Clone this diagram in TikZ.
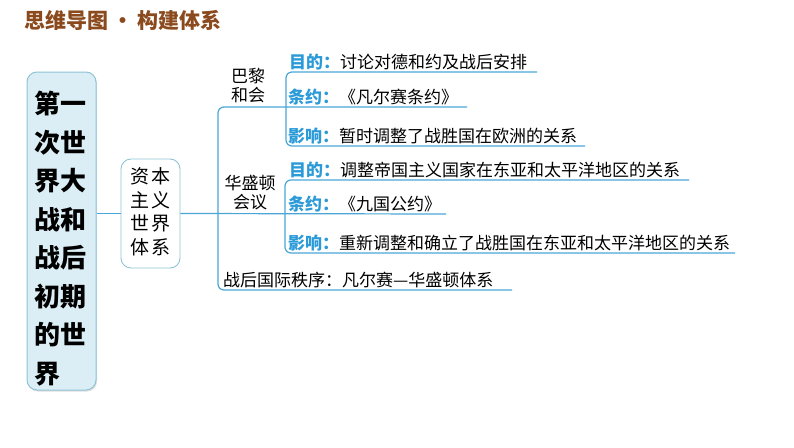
\documentclass[tikz,border=0pt]{standalone}
\usepackage{fontspec}
\newfontfamily\cjk{Noto Sans CJK SC}
\usetikzlibrary{shadows}
\definecolor{titlebrown}{HTML}{8B4A1E}
\definecolor{linkblue}{HTML}{4AA6D6}
\definecolor{labelblue}{HTML}{2A9AD8}
\definecolor{boxfill}{HTML}{DCEEF5}
\definecolor{boxline}{HTML}{8EC4D6}
\newcommand{\lbl}[1]{\textcolor{labelblue}{\bfseries #1：}}
\tikzset{
  link/.style={draw=linkblue, line width=1.2pt},
  item/.style={anchor=base west, inner sep=0pt, font=\cjk\fontsize{17}{17}\selectfont},
  confname/.style={align=center, inner sep=0pt, font=\cjk\fontsize{17}{19}\selectfont},
}
\begin{document}
\begin{tikzpicture}[x=1pt,y=-1pt]
\useasboundingbox[fill=white] (0,0) rectangle (794,447);

% title
\node[anchor=west, inner sep=0pt, text=titlebrown, font=\cjk\bfseries\fontsize{21}{21}\selectfont] (title) at (24,20) {思维导图\hspace{4pt}•\hspace{4pt}构建体系};

% main box
\node[draw=boxline, fill=boxfill, rounded corners=10pt, minimum width=69pt, minimum height=318pt, line width=1pt,
      drop shadow={opacity=0.25, shadow xshift=1pt, shadow yshift=-1.5pt}] (mainbox) at (61.5,231) {};
\node[anchor=north west, align=left, inner sep=0pt, font=\cjk\bfseries\fontsize{26}{38.5}\selectfont] (maintxt) at (34,91)
  {第一\\次世\\界大\\战和\\战后\\初期\\的世\\界};

% system box
\node[draw=boxline, fill=white, rounded corners=10pt, minimum width=59pt, minimum height=109pt, line width=0.9pt] (sysbox) at (150.5,213.5) {};
\node[align=center, inner sep=0pt, font=\cjk\fontsize{19}{23.5}\selectfont] (systxt) at (150.5,212) {资\hspace{2pt}本\\主\hspace{2pt}义\\世\hspace{2pt}界\\体\hspace{2pt}系};

% end coordinates
\coordinate (wsEnd) at (446,214);
\coordinate (parisEnd) at (467,107);
\coordinate (orderEnd) at (512,290);
\coordinate (pAimEnd) at (537,72);
\coordinate (pEffEnd) at (585,146);
\coordinate (wAimEnd) at (689,180);
\coordinate (wEffEnd) at (735,253);

% connectors
\draw[link] (mainbox.east |- sysbox.west) -- (sysbox.west);
\draw[link] (sysbox.east) -- (wsEnd);
\draw[link, rounded corners=6pt] (parisEnd) -- (218,107) -- (218,290) -- (orderEnd);
\draw[link, rounded corners=6pt] (pAimEnd) -- (286,72) -- (286,146) -- (pEffEnd);
\draw[link, rounded corners=6pt] (wAimEnd) -- (285,180) -- (285,253) -- (wEffEnd);

% conference names
\node[confname] (paris) at (248,86) {巴黎\\和会};
\node[confname] (wash) at (250,192.5) {华盛顿\\会议};

% items
\node[item] (pAim) at (289,68) {\lbl{目的}讨论对德和约及战后安排};
\node[item] (pTreaty) at (288,103) {\lbl{条约}《凡尔赛条约》};
\node[item] (pEff) at (288,142) {\lbl{影响}暂时调整了战胜国在欧洲的关系};
\node[item] (wAim) at (289,176) {\lbl{目的}调整帝国主义国家在东亚和太平洋地区的关系};
\node[item] (wTreaty) at (288,210) {\lbl{条约}《九国公约》};
\node[item] (wEff) at (288,249) {\lbl{影响}重新调整和确立了战胜国在东亚和太平洋地区的关系};
\node[item] (order) at (223,286) {战后国际秩序：凡尔赛—华盛顿体系};
\end{tikzpicture}
\end{document}
